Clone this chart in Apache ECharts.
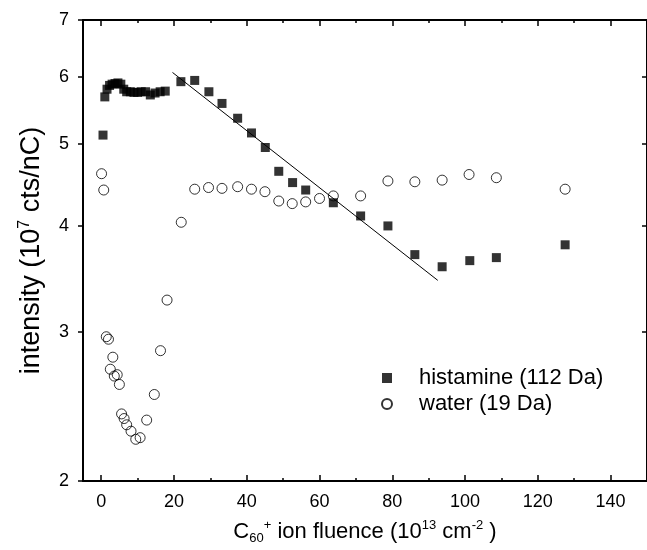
<!DOCTYPE html>
<html><head><meta charset="utf-8">
<script src="https://cdn.jsdelivr.net/npm/echarts@6/dist/echarts.min.js"></script>
<style>html,body{margin:0;padding:0;background:#fff}#c{width:647px;height:550px}</style>
</head><body><div id="c"></div>
<script>
// Histamine (112 Da)
const histX = [0.5,1.0,1.6,2.3,3.0,3.8,4.6,5.4,6.2,7.0,8.0,9.0,10.0,11.0,12.2,13.5,14.8,16.2,17.6,21.9,25.7,29.6,33.2,37.5,41.3,45.1,48.8,52.6,56.2,63.8,71.3,78.8,86.2,93.7,101.3,108.6,127.5];
const histY = [5.12,5.68,5.80,5.86,5.88,5.89,5.90,5.88,5.80,5.76,5.76,5.75,5.75,5.76,5.76,5.71,5.74,5.76,5.77,5.92,5.94,5.76,5.58,5.36,5.15,4.95,4.64,4.50,4.41,4.26,4.11,4.00,3.70,3.58,3.64,3.67,3.80];
// Water (19 Da)
const waterX = [0.1,0.7,1.4,2.0,2.5,3.2,3.6,4.4,5.0,5.6,6.3,7.0,8.2,9.5,10.7,12.5,14.6,16.3,18.1,22.0,25.7,29.5,33.2,37.5,41.3,45.0,48.8,52.5,56.2,60.0,63.8,71.3,78.8,86.2,93.7,101.1,108.6,127.5];
const waterY = [4.61,4.41,2.96,2.94,2.71,2.80,2.66,2.67,2.60,2.40,2.37,2.33,2.29,2.24,2.25,2.36,2.53,2.85,3.27,4.04,4.42,4.44,4.43,4.45,4.42,4.39,4.28,4.25,4.27,4.31,4.34,4.34,4.52,4.51,4.53,4.60,4.56,4.42];
// Exponential fit line (straight on log axis)
const fitX = [19.6, 92.5];
const fitY = [6.07, 3.45];
// Ticks
const xMajor = [0,20,40,60,80,100,120,140];
const xMinor = [10,30,50,70,90,110,130,150];
const yTicks = [2,3,4,5,6,7];

const zip = (a,b) => a.map((v,i)=>[v,b[i]]);
const FONT = 'Liberation Sans, Arial, sans-serif';
const xBase = {type:'value', min:-5, max:150, splitLine:{show:false}};
const chart = echarts.init(document.getElementById('c'), null, {renderer:'canvas'});
chart.setOption({
  animation:false,
  backgroundColor:'#fff',
  grid:{left:83, top:20, right:-3, bottom:68, containLabel:false},
  legend:{
    orient:'vertical', left:376, top:362, itemWidth:54, itemHeight:10, itemGap:4,
    symbolKeepAspect:true,
    data:[{name:'histamine (112 Da)', icon:'path://M0,0L10,0L10,10L0,10Z'},
          {name:'water (19 Da)', icon:'circle'}],
    textStyle:{fontFamily:FONT, fontSize:22, color:'#000', lineHeight:22}
  },
  xAxis:[
    Object.assign({}, xBase, {position:'bottom',
      name:'C{sub|60}{sup|+} ion fluence (10{sup|13} cm{sup|-2} )', nameLocation:'middle', nameGap:38,
      nameTextStyle:{fontFamily:FONT, fontSize:22, color:'#000', lineHeight:26,
        rich:{sup:{fontFamily:FONT,fontSize:13,verticalAlign:'top',lineHeight:13,color:'#000'},
              sub:{fontFamily:FONT,fontSize:13,verticalAlign:'bottom',lineHeight:13,color:'#000'}}},
      axisLine:{show:true,onZero:false,lineStyle:{color:'#000',width:2}},
      axisTick:{show:true,inside:true,length:6,customValues:xMajor,lineStyle:{color:'#000',width:1.5}},
      axisLabel:{show:true,customValues:xMajor,margin:12,fontFamily:FONT,fontSize:18,color:'#000'}}),
    Object.assign({}, xBase, {position:'bottom',
      axisLine:{show:false,onZero:false},
      axisTick:{show:true,inside:true,length:3,customValues:xMinor,lineStyle:{color:'#000',width:1.5}},
      axisLabel:{show:false}}),
    Object.assign({}, xBase, {position:'top',
      axisLine:{show:true,onZero:false,lineStyle:{color:'#000',width:2}},
      axisTick:{show:true,inside:true,length:6,customValues:xMajor,lineStyle:{color:'#000',width:1.5}},
      axisLabel:{show:false}}),
    Object.assign({}, xBase, {position:'top',
      axisLine:{show:false,onZero:false},
      axisTick:{show:true,inside:true,length:3,customValues:xMinor,lineStyle:{color:'#000',width:1.5}},
      axisLabel:{show:false}})
  ],
  yAxis:[
    {type:'log', logBase:10, min:2, max:7, position:'left', splitLine:{show:false}, minorTick:{show:false},
      name:'intensity (10{sup|7} cts/nC)', nameLocation:'middle', nameGap:36, nameRotate:90,
      nameTextStyle:{fontFamily:FONT, fontSize:27, color:'#000', lineHeight:30,
        rich:{sup:{fontFamily:FONT,fontSize:16,verticalAlign:'top',lineHeight:16,color:'#000'}}},
      axisLine:{show:true,onZero:false,lineStyle:{color:'#000',width:2}},
      axisTick:{show:true,inside:false,length:5,customValues:yTicks,lineStyle:{color:'#000',width:1.5}},
      axisLabel:{show:true,customValues:yTicks,margin:14,fontFamily:FONT,fontSize:18,color:'#000'}},
    {type:'log', logBase:10, min:2, max:7, position:'right', splitLine:{show:false},
      axisLine:{show:true,onZero:false,lineStyle:{color:'#000',width:2}},
      axisTick:{show:true,inside:true,length:5,customValues:yTicks,lineStyle:{color:'#000',width:1.5}},
      axisLabel:{show:false}}
  ],
  series:[
    {name:'fit', type:'line', data:zip(fitX,fitY), showSymbol:false, symbol:'none',
      lineStyle:{color:'#000',width:1}, silent:true, z:1},
    {name:'histamine (112 Da)', type:'scatter', symbol:'rect', symbolSize:9,
      itemStyle:{color:'#000'}, data:zip(histX,histY), z:3},
    {name:'water (19 Da)', type:'scatter', symbol:'circle', symbolSize:10,
      itemStyle:{color:'rgba(255,255,255,0)', borderColor:'#000', borderWidth:1}, data:zip(waterX,waterY), z:2}
  ]
});
</script></body></html>
